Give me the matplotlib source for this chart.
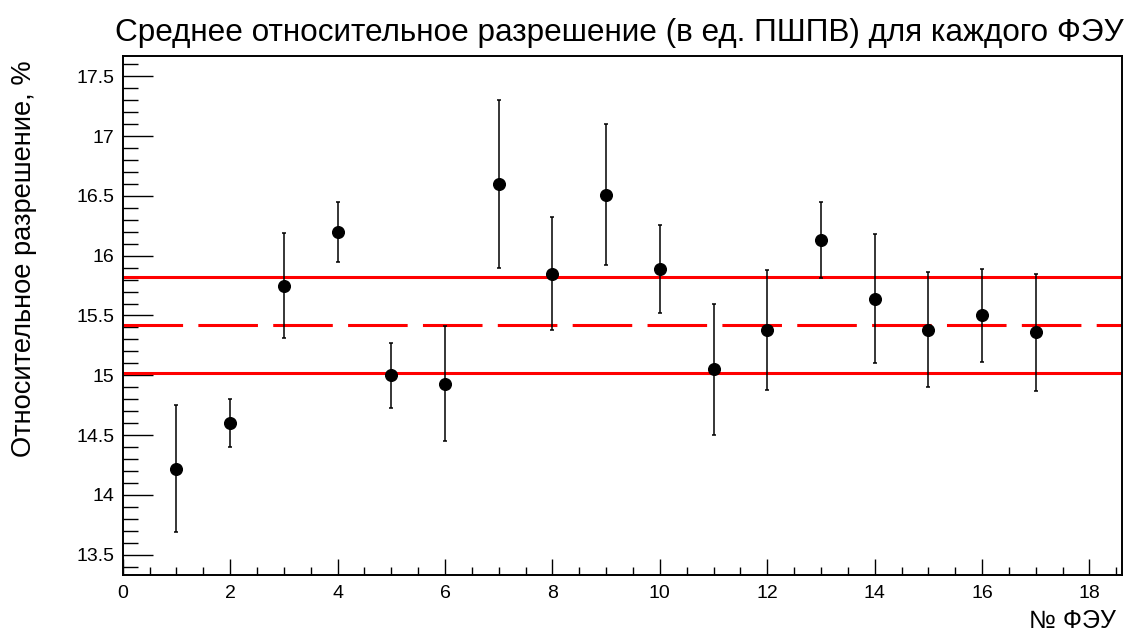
import matplotlib
matplotlib.use("Agg")
import matplotlib.pyplot as plt
import numpy as np
from matplotlib.ticker import MultipleLocator

plt.rcParams['font.family'] = ['Liberation Sans', 'DejaVu Sans']

# mean relative resolution per PMT, with errors
pmt = np.arange(1, 18)
resolution = [14.22, 14.60, 15.75, 16.20, 15.00, 14.93, 16.60, 15.85, 16.51,
              15.89, 15.05, 15.38, 16.13, 15.64, 15.38, 15.50, 15.36]
errors = [0.53, 0.20, 0.44, 0.25, 0.27, 0.48, 0.70, 0.47, 0.59,
          0.37, 0.55, 0.50, 0.32, 0.54, 0.48, 0.39, 0.49]

mean_res = 15.42
band = [15.02, 15.82]

title = "Среднее относительное разрешение (в ед. ПШПВ) для каждого ФЭУ"
ylabel = "Относительное разрешение, %"
xlabel = "№ ФЭУ"


def main():
    fig = plt.figure(figsize=(11.35, 6.34), dpi=100)
    ax = fig.add_axes([0.1081, 0.0931, 0.8802, 0.8186])

    xmin, xmax = 0.0, 18.6
    ymin, ymax = 13.33, 17.67

    ax.plot([xmin, xmax], [band[0]] * 2, color="red", lw=2.2)
    ax.plot([xmin, xmax], [band[1]] * 2, color="red", lw=2.2)
    ax.plot([xmin, xmax], [mean_res] * 2, color="red", lw=2.2,
            dashes=(19.5, 5))

    ax.errorbar(pmt, resolution, yerr=errors, fmt="o", color="black",
                ms=8.4, elinewidth=1.1, capsize=1.2, capthick=1.1)

    ax.set_xlim(xmin, xmax)
    ax.set_ylim(ymin, ymax)

    ax.xaxis.set_major_locator(MultipleLocator(2))
    ax.xaxis.set_minor_locator(MultipleLocator(0.5))
    ax.yaxis.set_major_locator(MultipleLocator(0.5))
    ax.yaxis.set_minor_locator(MultipleLocator(0.1))
    ax.yaxis.set_major_formatter(
        plt.FuncFormatter(lambda v, p: f"{v:g}"))

    ax.tick_params(axis="both", which="both", direction="in",
                   top=False, right=False, width=1.0, labelsize=14)
    ax.tick_params(axis="x", which="major", length=11.5, pad=7)
    ax.tick_params(axis="x", which="minor", length=5.8)
    ax.tick_params(axis="y", which="major", length=21.6, pad=6)
    ax.tick_params(axis="y", which="minor", length=10.8)

    for sp in ax.spines.values():
        sp.set_linewidth(1.4)

    fig.text(619.5 / 1135, 1 - 33 / 634, title, ha="center", va="center",
             fontsize=22.7)
    fig.text(24 / 1135, 1 - 60 / 634, ylabel, rotation=90, ha="center",
             va="top", fontsize=19.6)
    fig.text(1116 / 1135, 1 - 621 / 634, xlabel, ha="right", va="center",
             fontsize=18)

    fig.savefig("out.png", dpi=100)
    plt.close(fig)


if __name__ == '__main__':
    main()
